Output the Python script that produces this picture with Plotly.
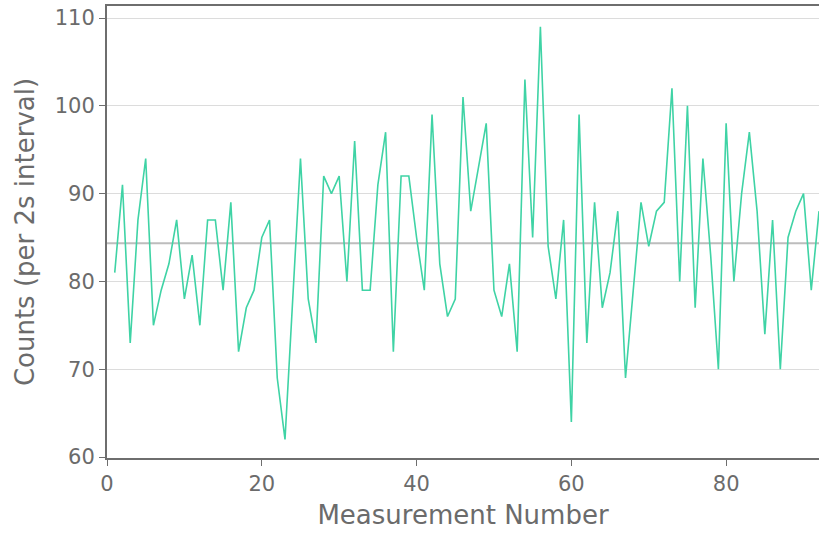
import plotly.graph_objects as go

measurement = list(range(1, 93))
counts = [81, 91, 73, 87, 94, 75, 79, 82, 87, 78,
          83, 75, 87, 87, 79, 89, 72, 77, 79, 85,
          87, 69, 62, 78, 94, 78, 73, 92, 90, 92,
          80, 96, 79, 79, 91, 97, 72, 92, 92, 85,
          79, 99, 82, 76, 78, 101, 88, 93, 98, 79,
          76, 82, 72, 103, 85, 109, 84, 78, 87, 64,
          99, 73, 89, 77, 81, 88, 69, 79, 89, 84,
          88, 89, 102, 80, 100, 77, 94, 83, 70, 98,
          80, 90, 97, 88, 74, 87, 70, 85, 88, 90,
          79, 88]
mean_count = 84.34
x_ticks = [0, 20, 40, 60, 80]
y_ticks = [60, 70, 80, 90, 100, 110]

font_family = "DejaVu Sans"
gray = "#6b6b6b"

fig = go.Figure()
fig.add_trace(go.Scatter(x=measurement, y=counts, mode="lines",
                         line=dict(color="#3fd3a5", width=1.6),
                         showlegend=False))
fig.add_hline(y=mean_count, line=dict(color="#bdbdbd", width=2), layer="below")

fig.update_layout(
    width=819, height=533,
    margin=dict(l=107, r=0, t=6, b=75),
    plot_bgcolor="white", paper_bgcolor="white",
    font=dict(family=font_family, size=21, color=gray),
    xaxis=dict(
        range=[0, 92], tickvals=x_ticks, showgrid=False, zeroline=False,
        showline=True, linecolor="#6e6e6e", linewidth=2, mirror=True,
        ticks="outside", ticklen=6, tickcolor="#6e6e6e",
        title=dict(text="Measurement Number", font=dict(size=26, color=gray), standoff=11),
        tickfont=dict(size=21, color=gray),
    ),
    yaxis=dict(
        range=[59.886, 111.37], tickvals=y_ticks, showgrid=True,
        gridcolor="#dcdcdc", gridwidth=1, zeroline=False,
        showline=True, linecolor="#6e6e6e", linewidth=2,
        ticks="outside", ticklen=6, tickcolor="#6e6e6e",
        title=dict(text="Counts (per 2s interval)", font=dict(size=26, color=gray), standoff=13),
        tickfont=dict(size=21, color=gray),
    ),
)

fig.write_html("out.html")
